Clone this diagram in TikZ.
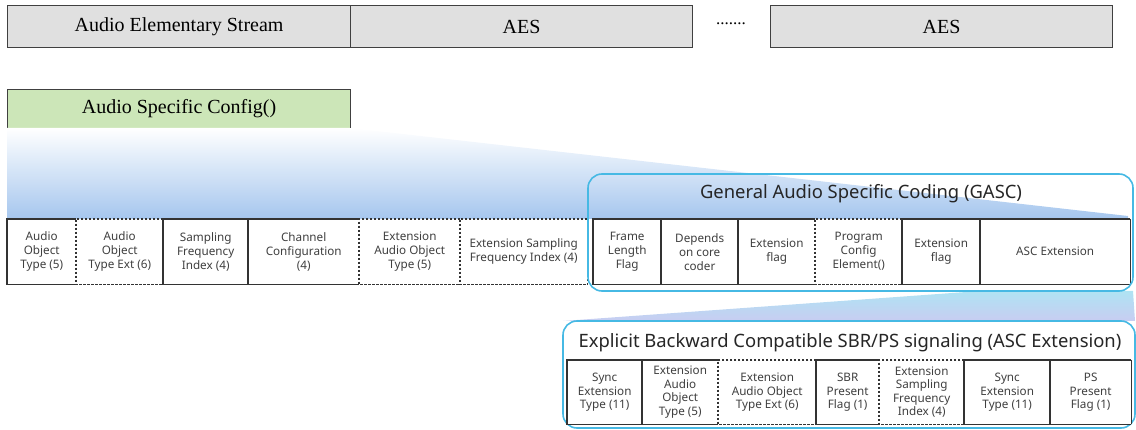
\documentclass[tikz,border=0pt]{standalone}
\usepackage{fontspec}
\setmainfont{Liberation Serif}
\newfontfamily\lbl{Noto Sans}
\definecolor{topfill}{RGB}{224,224,224}
\definecolor{ascfill}{RGB}{204,230,184}
\definecolor{bandtop}{RGB}{255,255,255}
\definecolor{bandmid}{RGB}{208,226,248}
\definecolor{bandbot}{RGB}{165,198,238}
\definecolor{btwotop}{RGB}{175,227,243}
\definecolor{btwobot}{RGB}{200,205,242}
\definecolor{framecol}{RGB}{70,185,228}
\begin{document}
\begin{tikzpicture}[x=1pt,y=-1pt,
  topbox/.style={draw=black!75, line width=1.1pt, fill=topfill, anchor=north west, inner sep=0pt, minimum height=42pt, font=\fontsize{20}{22}\selectfont},
  ascbox/.style={draw=black!75, line width=1.1pt, fill=ascfill, anchor=north west, inner sep=0pt, minimum height=39pt, font=\fontsize{20}{22}\selectfont},
  field/.style={fill=white, anchor=north west, inner sep=0pt, align=center, minimum height=65pt, font=\lbl\fontsize{11.7}{14}\selectfont, text=black!75},
  lfield/.style={field, minimum height=64pt, font=\lbl\fontsize{11.7}{13.6}\selectfont},
  sl/.style={draw=black!80, line width=1.2pt},
  dl/.style={draw=black!80, line width=1.2pt, dash pattern=on 2.4pt off 1.6pt},
  frame/.style={draw=framecol, line width=1.6pt, rounded corners=14pt},
  ttl/.style={font=\lbl\fontsize{18.4}{21}\selectfont, text=black!85}
]
\useasboundingbox (0,0) rectangle (1136,430);

% top row
\node[topbox, minimum width=343pt] (aes0) at (7,5) {Audio Elementary Stream};
\node[topbox, minimum width=342pt] (aes1) at (350,5) {AES};
\node[font=\fontsize{17}{17}\selectfont] (dots) at (731,24) {.......};
\node[topbox, minimum width=342pt] (aes2) at (770,5) {AES};

% audio specific config
\node[ascbox, minimum width=343pt] (asc) at (7,89) {Audio Specific Config()};

% projection bands
\shade[top color=bandtop, middle color=bandmid, bottom color=bandbot]
  (7,128) -- (350,128) -- (1128,216) -- (1128,219) -- (7,219) -- cycle;
\shade[top color=btwotop, bottom color=btwobot]
  (980,291) -- (1133,291) -- (1135,321) -- (563,321) -- cycle;

% lower frame
\draw[frame, fill=white] (563,321) rectangle (1135,428);

% first row of fields
\node[field, minimum width=69pt]  (f1) at (7,219)   {Audio\\Object\\Type (5)};
\node[field, minimum width=87pt]  (f2) at (76,219)  {Audio\\Object\\Type Ext (6)};
\node[field, minimum width=85pt]  (f3) at (163,219) {Sampling\\Frequency\\Index (4)};
\node[field, minimum width=111pt] (f4) at (248,219) {Channel\\Configuration\\(4)};
\node[field, minimum width=101pt] (f5) at (359,219) {Extension\\Audio Object\\Type (5)};
\node[field, minimum width=127pt] (f6) at (460,219) {Extension Sampling\\Frequency Index (4)};
\node[field, minimum width=68pt]  (g1) at (593,219) {Frame\\Length\\Flag};
\node[field, minimum width=77pt]  (g2) at (661,219) {Depends\\on core\\coder};
\node[field, minimum width=77pt]  (g3) at (738,219) {Extension\\flag};
\node[field, minimum width=87pt]  (g4) at (815,219) {Program\\Config\\Element()};
\node[field, minimum width=78pt]  (g5) at (902,219) {Extension\\flag};
\node[field, minimum width=150pt] (g6) at (980,219) {ASC Extension};

% second row of fields
\node[lfield, minimum width=75pt] (h1) at (567,360)  {Sync\\Extension\\Type (11)};
\node[lfield, minimum width=76pt] (h2) at (642,360)  {Extension\\Audio\\Object\\Type (5)};
\node[lfield, minimum width=98pt] (h3) at (718,360)  {Extension\\Audio Object\\Type Ext (6)};
\node[lfield, minimum width=63pt] (h4) at (816,360)  {SBR\\Present\\Flag (1)};
\node[lfield, minimum width=85pt] (h5) at (879,360)  {Extension\\Sampling\\Frequency\\Index (4)};
\node[lfield, minimum width=86pt] (h6) at (964,360)  {Sync\\Extension\\Type (11)};
\node[lfield, minimum width=81pt] (h7) at (1050,360) {PS\\Present\\Flag (1)};

% field borders: each field owns its top, left and bottom edges
\foreach \n/\s in {f1/sl,f2/dl,f3/sl,f4/sl,f5/dl,f6/dl,g1/sl,g2/sl,g3/sl,g4/dl,g5/sl,g6/sl,
                   h1/sl,h2/sl,h3/dl,h4/sl,h5/dl,h6/sl,h7/sl}
  \draw[\s] (\n.north east) -- (\n.north west) -- (\n.south west) -- (\n.south east);
\draw[dl] (f6.north east) -- (f6.south east);
\draw[sl] (g6.north east) -- (g6.south east);
\draw[sl] (h7.north east) -- (h7.south east);

% GASC frame
\draw[frame] (588,174) rectangle (1133,291);

% titles
\node[ttl] (gasc) at (861,194) {General Audio Specific Coding (GASC)};
\node[ttl] (ebc) at (850,343) {Explicit Backward Compatible SBR/PS signaling (ASC Extension)};
\end{tikzpicture}
\end{document}
